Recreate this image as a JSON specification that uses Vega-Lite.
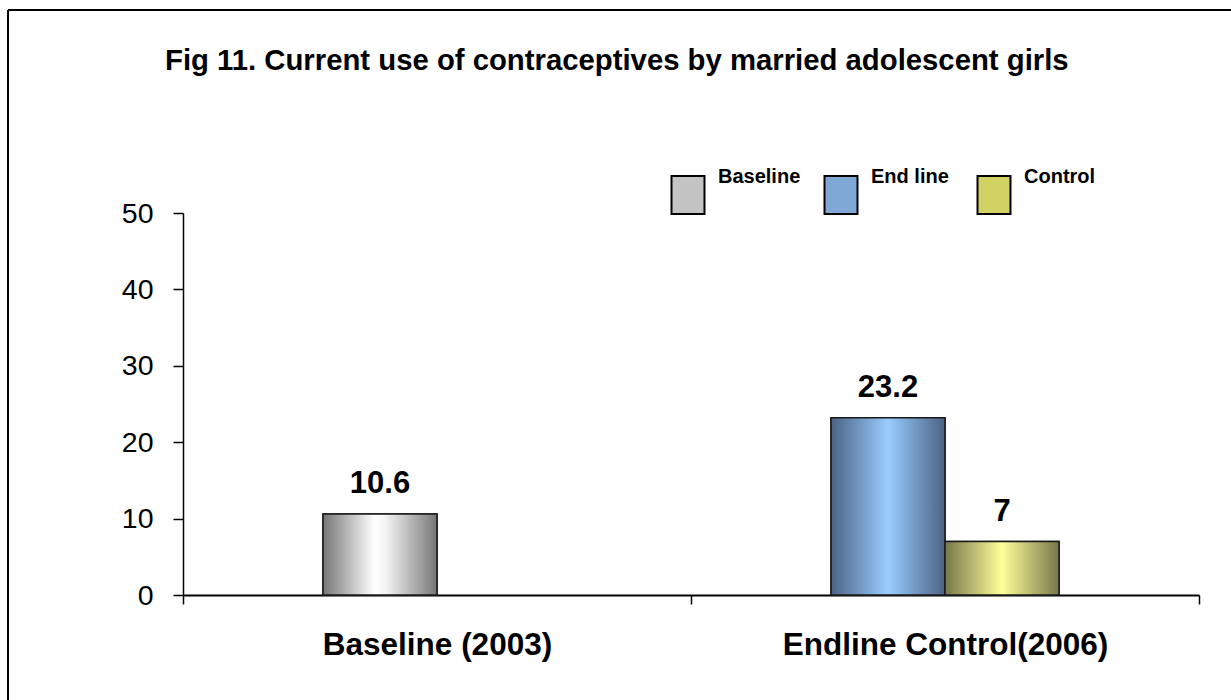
{
  "$schema": "https://vega.github.io/schema/vega-lite/v6.json",
  "width": 1223,
  "height": 690,
  "autosize": "none",
  "padding": {"left": 8, "top": 10, "right": 0, "bottom": 0},
  "background": "white",
  "title": {
    "text": "Fig 11. Current use of contraceptives by married adolescent girls",
    "anchor": "start",
    "frame": "group",
    "dx": 157,
    "offset": -89,
    "baseline": "alphabetic",
    "font": "Liberation Sans",
    "fontSize": 29.3,
    "fontWeight": "bold",
    "color": "black"
  },
  "data": {
    "values": [
      {"group": "Baseline (2003)", "slot": "a", "series": "Baseline", "value": 10.6},
      {"group": "Endline Control(2006)", "slot": "a", "series": "End line", "value": 23.2},
      {"group": "Endline Control(2006)", "slot": "b", "series": "Control", "value": 7}
    ]
  },
  "encoding": {
    "x": {
      "field": "group",
      "type": "nominal",
      "sort": null,
      "scale": {"range": [175, 1191], "paddingInner": 0, "paddingOuter": 0},
      "axis": {
        "title": null,
        "offset": -105,
        "domainColor": "black",
        "domainWidth": 2,
        "tickColor": "black",
        "tickWidth": 1.5,
        "tickSize": 9,
        "tickBand": "extent",
        "labelAngle": 0,
        "labelPadding": 25,
        "labelLimit": 1000,
        "labelFont": "Liberation Sans",
        "labelFontSize": 31.5,
        "labelFontWeight": "bold",
        "labelColor": "black"
      }
    },
    "xOffset": {
      "field": "slot",
      "type": "nominal",
      "scale": {"domain": ["lead", "a", "b", "trail"], "paddingInner": 0, "paddingOuter": 0.228}
    },
    "y": {
      "field": "value",
      "type": "quantitative",
      "scale": {"domain": [0, 50], "range": [585, 203], "nice": false},
      "axis": {
        "title": null,
        "values": [0, 10, 20, 30, 40, 50],
        "offset": -175,
        "grid": false,
        "domainColor": "black",
        "domainWidth": 1.5,
        "tickColor": "black",
        "tickWidth": 1.5,
        "tickSize": 10,
        "labelPadding": 20,
        "labelFont": "Liberation Sans",
        "labelFontSize": 28.5,
        "labelColor": "black"
      }
    }
  },
  "layer": [
    {
      "mark": {"type": "bar", "stroke": "#1a1a1a", "strokeWidth": 1.5},
      "encoding": {
        "color": {
          "field": "series",
          "type": "nominal",
          "scale": {
            "domain": ["Baseline", "End line", "Control"],
            "range": ["#c4c4c4", "#7fa8d6", "#d2d264"]
          },
          "legend": {
            "title": null,
            "orient": "none",
            "legendX": 660,
            "legendY": 157,
            "direction": "horizontal",
            "gridAlign": "all",
            "columnPadding": 19,
            "padding": 0,
            "symbolType": "M-0.868,-0.58L0.868,-0.58L0.868,1.42L-0.868,1.42Z",
            "symbolSize": 1444,
            "symbolStrokeColor": "black",
            "symbolStrokeWidth": 2,
            "symbolOpacity": 1,
            "labelFont": "Liberation Sans",
            "labelFontSize": 20,
            "labelFontWeight": "bold",
            "labelColor": "black",
            "labelOffset": 10,
            "labelBaseline": "bottom"
          }
        }
      }
    },
    {
      "transform": [{"filter": "datum.series === 'Baseline'"}],
      "mark": {
        "type": "bar",
        "stroke": "#1a1a1a",
        "strokeWidth": 1.5,
        "color": {"gradient": "linear", "x1": 0, "y1": 0, "x2": 1, "y2": 0, "stops": [
          {"offset": 0, "color": "#767676"},
          {"offset": 0.45, "color": "#ffffff"},
          {"offset": 0.55, "color": "#f4f4f4"},
          {"offset": 1, "color": "#767676"}
        ]}
      }
    },
    {
      "transform": [{"filter": "datum.series === 'End line'"}],
      "mark": {
        "type": "bar",
        "stroke": "#1a1a1a",
        "strokeWidth": 1.5,
        "color": {"gradient": "linear", "x1": 0, "y1": 0, "x2": 1, "y2": 0, "stops": [
          {"offset": 0, "color": "#4b6383"},
          {"offset": 0.5, "color": "#99ccff"},
          {"offset": 1, "color": "#4b6383"}
        ]}
      }
    },
    {
      "transform": [{"filter": "datum.series === 'Control'"}],
      "mark": {
        "type": "bar",
        "stroke": "#1a1a1a",
        "strokeWidth": 1.5,
        "color": {"gradient": "linear", "x1": 0, "y1": 0, "x2": 1, "y2": 0, "stops": [
          {"offset": 0, "color": "#77774a"},
          {"offset": 0.5, "color": "#ffff99"},
          {"offset": 1, "color": "#77774a"}
        ]}
      }
    },
    {
      "mark": {
        "type": "text",
        "dy": -21,
        "baseline": "alphabetic",
        "font": "Liberation Sans",
        "fontSize": 31,
        "fontWeight": "bold",
        "color": "black"
      },
      "encoding": {
        "text": {"field": "value", "type": "quantitative"}
      }
    }
  ],
  "config": {
    "view": {"stroke": "black", "strokeWidth": 2, "strokeDash": [1223, 1913, 690, 0]}
  }
}
